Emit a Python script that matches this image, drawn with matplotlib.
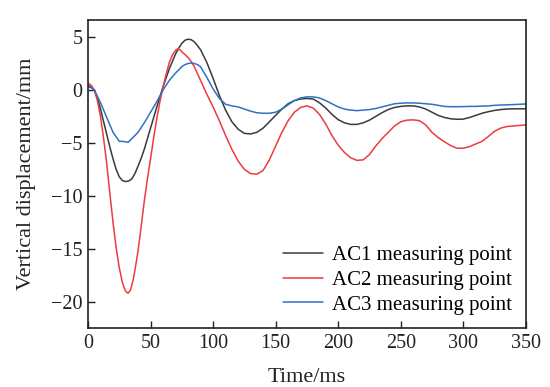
import matplotlib
matplotlib.use('Agg')
from matplotlib import pyplot as plt

# AC1 measuring point (dark grey)
t_ac1 = [0, 2.5, 5, 7.5, 10, 12.5, 15, 17.5, 20, 22.5, 25, 27.5, 30, 32.5, 35, 37.5, 40, 42.5,
         45, 50, 55, 60, 65, 70, 72.5, 75, 77.5, 80, 82.5, 85, 87.5, 90, 95,
         100, 105, 110, 115, 120, 125, 130, 135, 140, 145, 150, 155, 160, 165, 170, 175,
         180, 185, 190, 195, 200, 205, 210, 215, 220, 225, 230, 235, 240, 245, 250, 255,
         260, 265, 270, 275, 280, 285, 290, 295, 300, 305, 310, 315, 320, 325, 330, 335,
         340, 345, 350]
ac1 = [0.4, 0.3, 0.0, -0.7, -1.8, -3.0, -4.2, -5.4, -6.5, -7.5, -8.2, -8.55, -8.65, -8.6,
       -8.4, -7.9, -7.2, -6.45, -5.6, -3.6, -1.6, 0.3, 2.0, 3.4, 3.95, 4.4, 4.7, 4.8, 4.75,
       4.55, 4.2, 3.8, 2.6, 1.1, -0.5, -1.9, -3.0, -3.7, -4.1, -4.15, -4.0, -3.6, -3.0,
       -2.4, -1.8, -1.3, -1.0, -0.85, -0.8, -0.85, -1.2, -1.7, -2.3, -2.8, -3.1, -3.25,
       -3.25, -3.1, -2.85, -2.5, -2.15, -1.85, -1.65, -1.55, -1.5, -1.5, -1.6, -1.8, -2.1,
       -2.4, -2.6, -2.72, -2.77, -2.75, -2.6, -2.4, -2.2, -2.05, -1.93, -1.85, -1.8, -1.78,
       -1.78, -1.78]

# AC2 measuring point (red)
t_ac2 = [0, 2.5, 5, 7.5, 10, 12.5, 15, 17.5, 20, 22.5, 25, 27.5, 30, 32, 34, 36, 38, 40,
         42.5, 45, 47.5, 50, 52.5, 55, 57.5, 60, 62.5, 65, 67.5, 70, 72, 74, 76, 78, 80,
         82.5, 85, 90, 95, 100, 105, 110, 115, 120, 125, 130, 135, 140, 145, 150, 155, 160,
         165, 170, 175, 180, 185, 190, 195, 200, 205, 210, 215, 220, 225, 230, 235, 240,
         245, 250, 255, 260, 265, 270, 275, 280, 285, 290, 295, 300, 305, 310, 315, 320,
         325, 330, 335, 340, 345, 350]
ac2 = [0.65, 0.45, 0.0, -1.0, -2.5, -4.6, -7.0, -9.8, -12.5, -14.9, -16.8, -18.2, -19.0,
       -19.2, -18.9, -18.0, -16.7, -15.2, -12.9, -10.5, -8.4, -6.5, -4.5, -2.7, -1.1, 0.3,
       1.5, 2.6, 3.3, 3.75, 3.9, 3.75, 3.5, 3.3, 3.05, 2.7, 2.2, 0.9, -0.4, -1.6, -2.9,
       -4.3, -5.6, -6.7, -7.5, -7.9, -7.95, -7.6, -6.6, -5.3, -4.0, -2.9, -2.1, -1.65,
       -1.5, -1.7, -2.3, -3.2, -4.3, -5.2, -5.9, -6.4, -6.65, -6.6, -6.1, -5.3, -4.6,
       -4.0, -3.4, -3.0, -2.85, -2.82, -2.9, -3.3, -4.0, -4.5, -4.9, -5.25, -5.5, -5.5,
       -5.35, -5.1, -4.85, -4.4, -3.9, -3.6, -3.45, -3.4, -3.35, -3.3]

# AC3 measuring point (blue)
t_ac3 = [0, 3, 5, 10, 15, 20, 25, 28, 30, 32, 35, 40, 45, 50, 55, 60, 65, 70, 75, 77.5, 80,
         82.5, 85, 87.5, 90, 95, 100, 105, 110, 115, 120, 125, 130, 135, 140, 145, 150, 155,
         160, 165, 170, 175, 180, 185, 190, 195, 200, 205, 210, 215, 220, 225, 230, 235,
         240, 245, 250, 255, 260, 265, 270, 275, 280, 285, 290, 295, 300, 305, 310, 315,
         320, 325, 330, 335, 340, 345, 350]
ac3 = [0.3, 0.2, 0.0, -1.2, -2.6, -4.0, -4.85, -4.85, -4.9, -4.95, -4.6, -4.0, -3.1, -2.1,
       -1.1, 0.0, 0.9, 1.6, 2.2, 2.4, 2.5, 2.55, 2.5, 2.4, 2.2, 1.2, 0.1, -0.8, -1.35,
       -1.5, -1.6, -1.8, -2.0, -2.15, -2.2, -2.2, -2.1, -1.8, -1.4, -1.0, -0.75, -0.65,
       -0.65, -0.75, -1.0, -1.3, -1.6, -1.8, -1.9, -1.95, -1.9, -1.85, -1.75, -1.6, -1.45,
       -1.3, -1.25, -1.22, -1.22, -1.25, -1.3, -1.35, -1.45, -1.55, -1.58, -1.58, -1.57,
       -1.55, -1.55, -1.52, -1.5, -1.45, -1.42, -1.4, -1.38, -1.35, -1.32]

plt.rcParams['font.family'] = ['Liberation Serif', 'DejaVu Serif']
plt.rcParams['axes.unicode_minus'] = True

figure = plt.figure(figsize=(5.5, 3.87), dpi=100)
axis = figure.add_axes([0.16, 0.152, 0.796, 0.796])

line_style = dict(linewidth=1.1, solid_joinstyle='round', solid_capstyle='round')
axis.plot(t_ac1, ac1, color='#3a3a3a', label='AC1 measuring point', **line_style)
axis.plot(t_ac2, ac2, color='#ee3b3f', label='AC2 measuring point', **line_style)
axis.plot(t_ac3, ac3, color='#2f72c4', label='AC3 measuring point', **line_style)

axis.set_xlim(0, 350)
axis.set_ylim(-22.5, 6.6)
axis.set_xticks(range(0, 351, 50))
axis.set_yticks([-20, -15, -10, -5, 0, 5])
axis.tick_params(direction='in', length=5, width=1, colors='#222222',
                 labelcolor='#222222', labelsize=14.5, pad=4)
for spine in axis.spines.values():
    spine.set_linewidth(1.2)
    spine.set_color('#222222')

axis.set_xlabel('Time/ms', color='#222222', fontsize=16, labelpad=11)
axis.set_ylabel('Vertical displacement/mm', color='#222222', fontsize=16, labelpad=11)

axis.legend(loc='lower right', frameon=False, fontsize=15, handlelength=1.9,
            labelspacing=0.25, borderaxespad=0.25, handletextpad=0.45)

plt.savefig('out.png', dpi=100)
